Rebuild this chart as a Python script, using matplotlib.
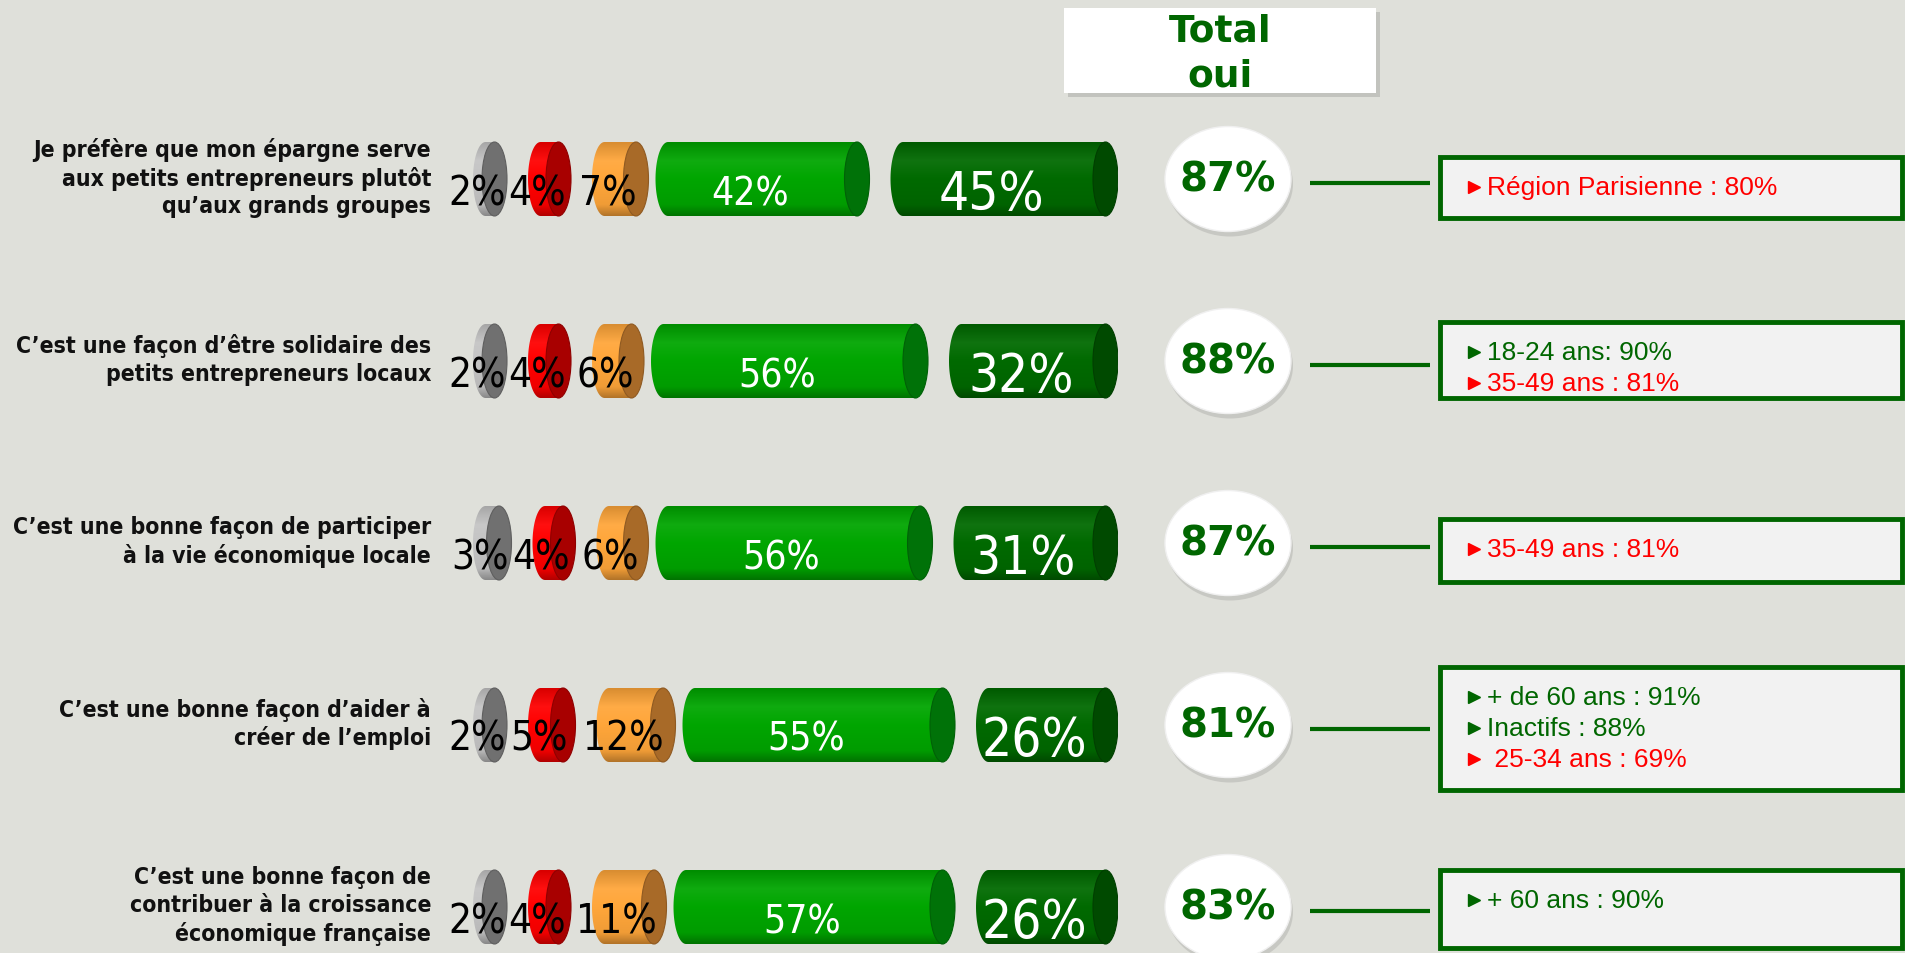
import matplotlib
matplotlib.use("Agg")
import numpy as np
import matplotlib.pyplot as plt
from matplotlib.patches import Ellipse, Rectangle, PathPatch
from matplotlib.path import Path
from matplotlib.colors import LinearSegmentedColormap, to_rgb

# ---- data -------------------------------------------------------------
categories = [
    "Je préfère que mon épargne serve\naux petits entrepreneurs plutôt\nqu’aux grands groupes",
    "C’est une façon d’être solidaire des\npetits entrepreneurs locaux",
    "C’est une bonne façon de participer\nà la vie économique locale",
    "C’est une bonne façon d’aider à\ncréer de l’emploi",
    "C’est une bonne façon de\ncontribuer à la croissance\néconomique française",
]
gray_vals = [2, 2, 3, 2, 2]
red_vals = [4, 4, 4, 5, 4]
orange_vals = [7, 6, 6, 12, 11]
green_vals = [42, 56, 56, 55, 57]
dark_vals = [45, 32, 31, 26, 26]
totals = [87, 88, 87, 81, 83]

notes_text = [
    ["Région Parisienne : 80%"],
    ["18-24 ans: 90%", "35-49 ans : 81%"],
    ["35-49 ans : 81%"],
    ["+ de 60 ans : 91%", "Inactifs : 88%", " 25-34 ans : 69%"],
    ["+ 60 ans : 90%"],
]
notes_color = [
    ["red"],
    ["green", "red"],
    ["red"],
    ["green", "green", "red"],
    ["green"],
]

# ---- styling ----------------------------------------------------------
BG = "#dfe0da"
GREEN_TXT = "#006600"
RED_TXT = "#ff0000"
seg_body = ["#c4c4c4", "#ff0000", "#ffa63a", "#00a600", "#006a00"]
seg_cap = ["#707070", "#a80000", "#a86a28", "#007208", "#004a00"]
seg_txt = ["black", "black", "black", "white", "white"]
seg_size = [29, 29, 29, 28, 38]

W, H = 1905, 954
row0, pitch = 180, 182          # pixel centre of first row, row spacing
u = 1.0 / pitch                 # row units per pixel
px_per_pct = 4.5
cap_px = 25
gap_px = [21, 21, 7, 21]
bar_left_px = 473

fig = plt.figure(figsize=(W / 100, H / 100), dpi=100)
fig.patch.set_facecolor(BG)

ylim = ((H - row0) / pitch, -row0 / pitch)

lay = fig.add_axes([0, 0, 1, 1])
lay.set_xlim(0, W)
lay.set_ylim(*ylim)
lay.axis("off")

bar_units = (100 * px_per_pct + 5 * cap_px + sum(gap_px)) / px_per_pct
bx = fig.add_axes([bar_left_px / W, 0, bar_units * px_per_pct / W, 1])
bx.set_xlim(0, bar_units)
bx.set_ylim(*ylim)
bx.axis("off")
bx.patch.set_alpha(0)

e = cap_px / px_per_pct
gaps = [g / px_per_pct for g in gap_px]
h = 74 * u


def shade(c, f):
    c = np.array(to_rgb(c))
    if f > 0:
        return tuple(c + (1 - c) * f)
    return tuple(c * (1 + f))


def cylinder(ax, s, v, y, body, cap):
    bl = s + e / 2
    br = bl + v
    t = np.linspace(np.pi / 2, 3 * np.pi / 2, 40)
    verts = [(bl + e / 2 * np.cos(a), y - h / 2 * np.sin(a)) for a in t]
    verts += [(br, y + h / 2), (br, y - h / 2), verts[0]]
    codes = [Path.MOVETO] + [Path.LINETO] * (len(verts) - 2) + [Path.CLOSEPOLY]
    patch = PathPatch(Path(verts, codes), facecolor="none", edgecolor="none")
    ax.add_patch(patch)
    cmap = LinearSegmentedColormap.from_list(
        "cyl", [(0, shade(body, -0.15)), (0.25, shade(body, 0.06)),
                (0.5, body), (0.85, shade(body, -0.06)), (1, shade(body, -0.3))])
    grad = np.linspace(0, 1, 100).reshape(-1, 1)
    im = ax.imshow(grad, cmap=cmap, aspect="auto", origin="upper",
                   extent=(s - 0.1, br + 0.1, y + h / 2, y - h / 2),
                   interpolation="bilinear", zorder=2)
    im.set_clip_path(patch)
    ax.add_patch(Ellipse((br, y), e, h, facecolor=cap,
                         edgecolor=shade(cap, -0.15), lw=0.8, zorder=3))


for i in range(len(categories)):
    vals = [gray_vals[i], red_vals[i], orange_vals[i], green_vals[i], dark_vals[i]]
    s = 0.0
    for j, v in enumerate(vals):
        cylinder(bx, s, v, i, seg_body[j], seg_cap[j])
        off = 30 if j == 4 else 25
        bx.text(s + v / 2, i + off * u, f"{v}%", ha="center", va="baseline",
                fontsize=seg_size[j], color=seg_txt[j], fontstretch="condensed",
                zorder=5)
        s += v + e
        if j < 4:
            s += gaps[j]

    # row label
    lay.text(431, i - 2 * u, categories[i], ha="right", va="center",
             multialignment="right", fontsize=16.5, fontweight="bold",
             color="#111111", linespacing=1.25, fontstretch="condensed")

    # total circle
    cx = 1228
    lay.add_patch(Ellipse((cx + 2, i + 5 * u), 126, 105 * u, facecolor="#b8b8b4",
                          edgecolor="none", alpha=0.6, zorder=2))
    lay.add_patch(Ellipse((cx, i), 126, 105 * u, facecolor="white",
                          edgecolor="#f0f0f0", lw=1, zorder=3))
    lay.text(cx, i + 1 * u, f"{totals[i]}%", ha="center", va="center",
             fontsize=29, fontweight="bold", color=GREEN_TXT, zorder=4)

    # connector
    lay.plot([1310, 1430], [i + 4 * u, i + 4 * u], color=GREEN_TXT, lw=3,
             solid_capstyle="butt")

# side boxes
box_top = [-22, -39, -24, -58, -37]
box_h = [61, 76, 63, 123, 78]
for i in range(len(categories)):
    top = i + box_top[i] * u
    lay.add_patch(Rectangle((1440, top), 1902 - 1440, box_h[i] * u,
                            facecolor="#f2f2f2", edgecolor=GREEN_TXT, lw=3.5,
                            zorder=3))
    for k, (txt, col) in enumerate(zip(notes_text[i], notes_color[i])):
        c = GREEN_TXT if col == "green" else RED_TXT
        ly = top + (30 + 31 * k) * u
        lay.plot(1474, ly, marker=">", markersize=8, color=c, zorder=4)
        lay.text(1487, ly, txt, ha="left", va="center", fontsize=19,
                 family="Liberation Sans", color=c, zorder=4)

# "Total oui" header
lay.add_patch(Rectangle((1068, 13 / pitch - row0 / pitch), 312, 85 * u,
                        facecolor="#b0b0ac", edgecolor="none", alpha=0.6, zorder=2))
lay.add_patch(Rectangle((1064, 9 / pitch - row0 / pitch), 312, 85 * u,
                        facecolor="white", edgecolor="none", zorder=3))
lay.text(1220, (54 - row0) / pitch, "Total\noui", ha="center", va="center",
         fontsize=27, fontweight="bold", color=GREEN_TXT, linespacing=1.35,
         zorder=4)

fig.savefig("out.png", dpi=100, facecolor=BG)
